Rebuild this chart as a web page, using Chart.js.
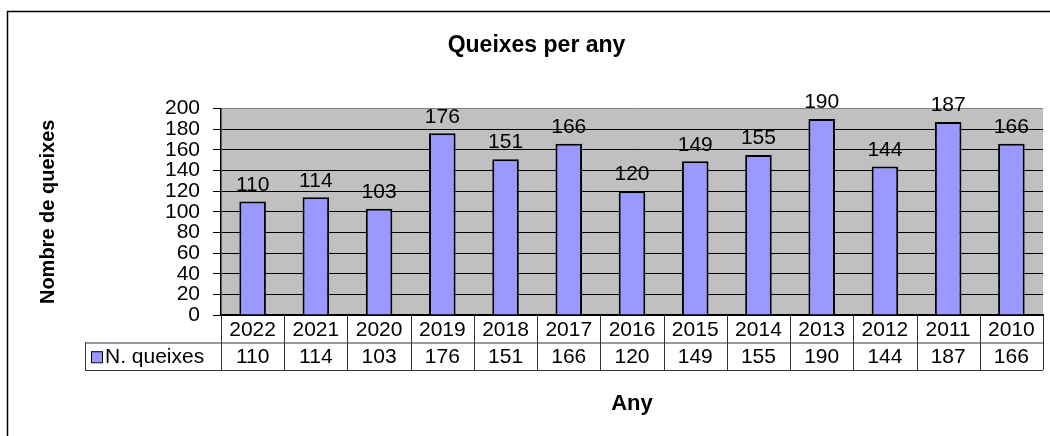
<!DOCTYPE html>
<html>
<head>
<meta charset="utf-8">
<title>Queixes per any</title>
<script src="https://cdn.jsdelivr.net/npm/chart.js@4/dist/chart.umd.min.js"></script>
<style>
  html, body { margin: 0; padding: 0; background: #fff; }
  #wrap { width: 1050px; height: 436px; }
</style>
</head>
<body>
<div id="wrap"><canvas id="queixesChart" width="1050" height="436"></canvas></div>
<script>
// Data
const years = ['2022', '2021', '2020', '2019', '2018', '2017', '2016', '2015', '2014', '2013', '2012', '2011', '2010'];
const queixes = [110, 114, 103, 176, 151, 166, 120, 149, 155, 190, 144, 187, 166];
const seriesName = 'N. queixes';
const yTicks = [0, 20, 40, 60, 80, 100, 120, 140, 160, 180, 200];

const FONT = 'Liberation Sans, Arial, sans-serif';
const BAR_COLOR = '#9999FF';
const TXT = 21; // size of the numbers / years

Chart.defaults.font.family = FONT;
Chart.defaults.color = '#000';

// gray plot background + outer frame
const backgroundPlugin = {
  id: 'plotBackground',
  beforeDraw(chart) {
    const ctx = chart.ctx;
    const a = chart.chartArea;
    ctx.save();
    ctx.fillStyle = '#fff';
    ctx.fillRect(0, 0, chart.width, chart.height);
    ctx.strokeStyle = '#000';
    ctx.lineWidth = 1.5;
    ctx.strokeRect(7.5, 11.5, 1200, 600);
    ctx.fillStyle = '#C0C0C0';
    ctx.fillRect(a.left, a.top, a.right - a.left, a.bottom - a.top);
    ctx.restore();
  }
};

// value labels above the bars
const valueLabels = {
  id: 'valueLabels',
  afterDatasetsDraw(chart) {
    const ctx = chart.ctx;
    const meta = chart.getDatasetMeta(0);
    ctx.save();
    ctx.font = TXT + 'px ' + FONT;
    ctx.fillStyle = '#000';
    ctx.textAlign = 'center';
    ctx.textBaseline = 'bottom';
    meta.data.forEach((bar, i) => {
      ctx.fillText(String(queixes[i]), bar.x, bar.y - 6);
    });
    ctx.restore();
  }
};

// data table under the x axis (years row comes from the axis ticks)
const dataTable = {
  id: 'dataTable',
  afterDraw(chart) {
    const ctx = chart.ctx;
    const x = chart.scales.x;
    const a = chart.chartArea;
    const rowH = 27.5;
    const top = a.bottom;
    const mid = top + rowH;
    const bot = top + rowH * 2;
    const legendLeft = 85;
    const catW = (a.right - a.left) / years.length;

    ctx.save();
    ctx.strokeStyle = '#333';
    ctx.lineWidth = 1;
    ctx.beginPath();
    ctx.moveTo(legendLeft, mid + 0.5); ctx.lineTo(a.right, mid + 0.5);
    ctx.moveTo(legendLeft, bot + 0.5); ctx.lineTo(a.right, bot + 0.5);
    ctx.moveTo(legendLeft + 0.5, mid); ctx.lineTo(legendLeft + 0.5, bot);
    for (let i = 0; i <= years.length; i++) {
      const px = Math.round(a.left + i * catW) + 0.5;
      ctx.moveTo(px, top); ctx.lineTo(px, bot);
    }
    ctx.stroke();

    ctx.font = TXT + 'px ' + FONT;
    ctx.fillStyle = '#000';
    ctx.textAlign = 'center';
    ctx.textBaseline = 'middle';
    queixes.forEach((v, i) => {
      ctx.fillText(String(v), x.getPixelForValue(i), (mid + bot) / 2 + 1);
    });

    // legend key
    const ky = (mid + bot) / 2;
    ctx.fillStyle = BAR_COLOR;
    ctx.fillRect(91, ky - 5, 11, 11);
    ctx.strokeStyle = '#000';
    ctx.strokeRect(91.5, ky - 4.5, 11, 11);
    ctx.fillStyle = '#000';
    ctx.textAlign = 'left';
    ctx.fillText(seriesName, 105, ky + 1);
    ctx.restore();
  }
};

const ctx = document.getElementById('queixesChart');

const chart = new Chart(ctx, {
  type: 'bar',
  data: {
    labels: years,
    datasets: [{
      label: seriesName,
      data: queixes,
      backgroundColor: BAR_COLOR,
      borderColor: '#000',
      borderWidth: 2,
      barPercentage: 0.42,
      categoryPercentage: 1.0
    }]
  },
  options: {
    responsive: false,
    animation: false,
    layout: { padding: { left: 30, right: 7, top: 0, bottom: 0 } },
    plugins: {
      legend: { display: false },
      tooltip: { enabled: false },
      title: {
        display: true,
        text: 'Queixes per any',
        font: { size: 23, weight: 'bold' },
        color: '#000',
        padding: { top: 32, bottom: 49 }
      }
    },
    scales: {
      x: {
        grid: { display: false, drawTicks: false },
        border: { display: true, color: '#000', width: 1.5 },
        ticks: { font: { size: TXT }, padding: 3, maxRotation: 0, autoSkip: false, color: '#000' },
        title: {
          display: true,
          text: 'Any',
          font: { size: 22, weight: 'bold' },
          color: '#000',
          padding: { top: 0, bottom: 19 }
        },
        afterFit(scale) { scale.height = 121; }
      },
      y: {
        min: 0,
        max: 200,
        afterBuildTicks(scale) { scale.ticks = yTicks.map(v => ({ value: v })); },
        grid: {
          color: ctx => (ctx.tick && ctx.tick.value === 200 ? '#808080' : '#000'),
          lineWidth: 1,
          drawTicks: true,
          tickLength: 8,
          tickColor: '#000'
        },
        border: { display: true, color: '#000', width: 1.5 },
        ticks: { font: { size: TXT }, padding: 13, autoSkip: false, color: '#000' },
        title: {
          display: true,
          text: 'Nombre de queixes',
          font: { size: 20, weight: 'bold' },
          color: '#000',
          padding: { top: 6, bottom: 0 }
        },
        afterFit(scale) { scale.width = 191; }
      }
    }
  },
  plugins: [backgroundPlugin, valueLabels, dataTable]
});
</script>
</body>
</html>
